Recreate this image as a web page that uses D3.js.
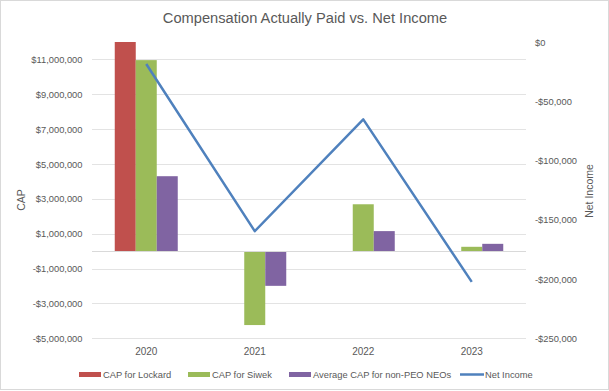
<!DOCTYPE html>
<html><head><meta charset="utf-8">
<script src="https://cdn.jsdelivr.net/npm/d3@7"></script>
<style>body{margin:0;background:#fff}svg{display:block;font-family:"Liberation Sans",Arial,sans-serif}</style>
</head><body><svg id="c" width="609" height="391"></svg>
<script>
const categories = ["2020","2021","2022","2023"];
const capLockard = [12000000, null, null, null];
const capSiwek = [10960000, -4240000, 2690000, 250000];
const capAvgNeo = [4300000, -1990000, 1150000, 420000];
const netIncome = [-18600, -159600, -65300, -202400];
const leftTicks = [-5000000,-3000000,-1000000,1000000,3000000,5000000,7000000,9000000,11000000];
const rightTicks = [0,-50000,-100000,-150000,-200000,-250000];
const seriesNames = ["CAP for Lockard","CAP for Siwek","Average CAP for non-PEO NEOs","Net Income"];
const colors = ["#C0504D","#9BBB59","#8064A2","#4F81BD"];

const svg = d3.select("#c");
const txt = "#595959";
svg.append("rect").attr("x",0.5).attr("y",0.5).attr("width",608).attr("height",389)
  .attr("fill","#fff").attr("stroke","#D9D9D9");

const x = d3.scaleBand().domain(categories).range([92,526]);
const yL = d3.scaleLinear().domain([-5000000,12000000]).range([338.3,42]);
const yR = d3.scaleLinear().domain([-250000,0]).range([338.3,42]);
const fmt = v => (v<0?"-$":"$") + d3.format(",")(Math.abs(v));

// gridlines
svg.append("g").selectAll("line").data(leftTicks).join("line")
  .attr("x1",92).attr("x2",526).attr("y1",d=>Math.round(yL(d))+0.5).attr("y2",d=>Math.round(yL(d))+0.5)
  .attr("stroke","#E3E3E3");

// left axis
const gL = svg.append("g").attr("transform","translate(82.5,0)")
  .call(d3.axisLeft(yL).tickValues(leftTicks).tickFormat(fmt).tickSize(0).tickPadding(0));
gL.select(".domain").remove();
gL.selectAll("text").attr("fill",txt).attr("font-size","9.33px").attr("font-family","Liberation Sans, Arial, sans-serif");

// right axis
const gR = svg.append("g").attr("transform","translate(535,0)")
  .call(d3.axisRight(yR).tickValues(rightTicks).tickFormat(fmt).tickSize(0).tickPadding(0));
gR.select(".domain").remove();
gR.selectAll("text").attr("fill",txt).attr("font-size","9.33px").attr("font-family","Liberation Sans, Arial, sans-serif");

// bars
const barW = 21;
const series = [capLockard, capSiwek, capAvgNeo];
series.forEach((s,si)=>{
  svg.append("g").selectAll("rect").data(s.map((v,i)=>({v,c:categories[i]})).filter(d=>d.v!==null)).join("rect")
    .attr("x",d=>x(d.c)+x.bandwidth()/2 - 1.5*barW + si*barW)
    .attr("width",barW)
    .attr("y",d=>Math.min(yL(d.v),yL(0)))
    .attr("height",d=>Math.abs(yL(d.v)-yL(0)))
    .attr("fill",colors[si]);
});

// category axis line
svg.append("line").attr("x1",92).attr("x2",526).attr("y1",Math.round(yL(0))+0.5).attr("y2",Math.round(yL(0))+0.5)
  .attr("stroke","#D9D9D9");

// x axis labels
const gX = svg.append("g").attr("transform","translate(0,347.5)")
  .call(d3.axisBottom(x).tickSize(0).tickPadding(0));
gX.select(".domain").remove();
gX.selectAll("text").attr("fill",txt).attr("font-size","10px").attr("font-family","Liberation Sans, Arial, sans-serif");

// net income line
const line = d3.line().x((d,i)=>x(categories[i])+x.bandwidth()/2).y(d=>yR(d));
svg.append("path").datum(netIncome).attr("d",line).attr("fill","none")
  .attr("stroke",colors[3]).attr("stroke-width",2.5).attr("stroke-linejoin","round");

// title
svg.append("text").attr("x",305).attr("y",23).attr("text-anchor","middle")
  .attr("font-size","14.67px").attr("fill",txt).text("Compensation Actually Paid vs. Net Income");

// axis titles
svg.append("text").attr("transform","translate(25,200) rotate(-90)").attr("text-anchor","middle")
  .attr("font-size","10.5px").attr("fill",txt).text("CAP");
svg.append("text").attr("transform","translate(593,191) rotate(-90)").attr("text-anchor","middle")
  .attr("font-size","10.5px").attr("fill",txt).text("Net Income");

// legend
const legX = [79,188,289,460];
const leg = svg.append("g");
seriesNames.forEach((n,i)=>{
  if(i<3){
    leg.append("rect").attr("x",legX[i]).attr("y",372).attr("width",22).attr("height",5).attr("fill",colors[i]);
  } else {
    leg.append("line").attr("x1",legX[i]).attr("x2",legX[i]+24).attr("y1",374.5).attr("y2",374.5)
      .attr("stroke",colors[i]).attr("stroke-width",2.5);
  }
  leg.append("text").attr("x",legX[i]+(i<3?24:25)).attr("y",377.8).attr("font-size","9.33px").attr("fill",txt).text(n);
});
</script></body></html>
